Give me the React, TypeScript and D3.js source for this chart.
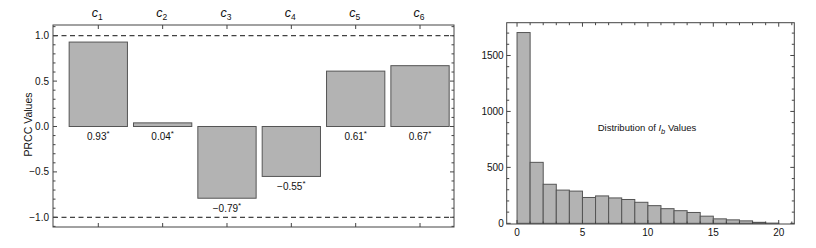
import React, { useEffect, useRef } from "react";
import * as d3 from "d3";

// PRCC panel data
const params = ["1", "2", "3", "4", "5", "6"];
const prccValues = [0.93, 0.04, -0.79, -0.55, 0.61, 0.67];
const prccLabels = ["0.93", "0.04", "\u22120.79", "\u22120.55", "0.61", "0.67"];
const prccTicks = [-1.0, -0.5, 0.0, 0.5, 1.0];

// histogram of I_b
const binStarts = [0, 1, 2, 3, 4, 5, 6, 7, 8, 9, 10, 11, 12, 13, 14, 15, 16, 17, 18, 19];
const binCounts = [1705, 545, 349, 297, 288, 231, 245, 227, 213, 188, 158, 131, 113, 97, 64, 40, 31, 22, 9, 2];
const histXTicks = [0, 5, 10, 15, 20];
const histYTicks = [0, 500, 1000, 1500];

const FONT = "'Liberation Sans', Arial, Helvetica, sans-serif";
const BAR_FILL = "#b3b3b3";
const BAR_STROKE = "#555";
const FRAME = "#444";

const App = () => {
  const ref = useRef<SVGSVGElement>(null);

  useEffect(() => {
    const svg = d3.select(ref.current);
    svg.selectAll("*").remove();
    svg.attr("font-family", FONT);

    // ---------- left: PRCC bar chart ----------
    const L = { left: 53, right: 454, top: 25, bottom: 227 };
    const x = d3.scaleLinear().domain([0.296, 6.528]).range([L.left, L.right]);
    const y = d3.scaleLinear().domain([-1.107, 1.118]).range([L.bottom, L.top]);
    const barW = 0.906;
    const idx = params.map((_, i) => i + 1);

    const left = svg.append("g");

    left
      .append("g")
      .selectAll("rect")
      .data(prccValues)
      .join("rect")
      .attr("x", (_, i) => x(i + 1 - barW / 2))
      .attr("width", x(barW) - x(0))
      .attr("y", (d) => y(Math.max(0, d)))
      .attr("height", (d) => Math.abs(y(d) - y(0)))
      .attr("fill", BAR_FILL)
      .attr("stroke", BAR_STROKE)
      .attr("stroke-width", 1);

    // dashed reference lines at +-1
    left
      .selectAll("line.ref")
      .data([1, -1])
      .join("line")
      .attr("x1", L.left)
      .attr("x2", L.right)
      .attr("y1", (d) => y(d))
      .attr("y2", (d) => y(d))
      .attr("stroke", "#111")
      .attr("stroke-width", 1)
      .attr("stroke-dasharray", "5,3.5");

    // value labels
    const vl = left
      .append("g")
      .selectAll("text")
      .data(prccValues)
      .join("text")
      .attr("x", (_, i) => x(i + 1))
      .attr("y", (d) => (d >= 0 ? y(0) : y(d)) + 14)
      .attr("text-anchor", "middle")
      .attr("font-size", 10)
      .attr("fill", "#111");
    vl.append("tspan").text((_, i) => prccLabels[i]);
    vl.append("tspan").attr("dy", -4).attr("font-size", 8).text("*");

    // frame
    left
      .append("rect")
      .attr("x", L.left)
      .attr("y", L.top)
      .attr("width", L.right - L.left)
      .attr("height", L.bottom - L.top)
      .attr("fill", "none")
      .attr("stroke", FRAME)
      .attr("stroke-width", 1);

    // y ticks (major 0.5, minor 0.1) on both sides
    const minorY = d3.range(-11, 12).map((v) => v / 10);
    minorY.forEach((v) => {
      const major = Math.abs(Math.round(v * 10) % 5) === 0;
      const len = major ? 4 : 2.5;
      left.append("line").attr("x1", L.left).attr("x2", L.left + len)
        .attr("y1", y(v)).attr("y2", y(v)).attr("stroke", FRAME);
      left.append("line").attr("x1", L.right).attr("x2", L.right - len)
        .attr("y1", y(v)).attr("y2", y(v)).attr("stroke", FRAME);
    });
    left
      .append("g")
      .selectAll("text")
      .data(prccTicks)
      .join("text")
      .attr("x", L.left - 4)
      .attr("y", (d) => y(d) + 3.5)
      .attr("text-anchor", "end")
      .attr("font-size", 10)
      .attr("fill", "#111")
      .text((d) => d3.format(".1f")(d).replace("-", "\u2212"));

    // x ticks at bar centres, top and bottom
    idx.forEach((i) => {
      left.append("line").attr("x1", x(i)).attr("x2", x(i))
        .attr("y1", L.bottom).attr("y2", L.bottom - 4).attr("stroke", FRAME);
      left.append("line").attr("x1", x(i)).attr("x2", x(i))
        .attr("y1", L.top).attr("y2", L.top + 4).attr("stroke", FRAME);
    });

    // c_i labels above the frame
    const cl = left
      .append("g")
      .selectAll("text")
      .data(params)
      .join("text")
      .attr("x", (_, i) => x(i + 1) - 1)
      .attr("y", 17)
      .attr("text-anchor", "middle")
      .attr("fill", "#111");
    cl.append("tspan").attr("font-size", 12.5).attr("font-style", "italic").text("c");
    cl.append("tspan").attr("font-size", 8.5).attr("dy", 3).text((d) => d);

    // y axis title
    left
      .append("text")
      .attr("transform", `translate(31.5,${y(0) - 2}) rotate(-90)`)
      .attr("text-anchor", "middle")
      .attr("font-size", 10.5)
      .attr("fill", "#111")
      .text("PRCC Values");

    // ---------- right: histogram ----------
    const R = { left: 506.7, right: 794.3, top: 22.7, bottom: 224 };
    const hx = d3.scaleLinear().domain([-0.79, 21.19]).range([R.left, R.right]);
    const hy = d3.scaleLinear().domain([-6, 1793]).range([R.bottom, R.top]);

    const right = svg.append("g");

    right
      .append("g")
      .selectAll("rect")
      .data(binCounts)
      .join("rect")
      .attr("x", (_, i) => hx(binStarts[i]))
      .attr("width", hx(1) - hx(0))
      .attr("y", (d) => hy(d))
      .attr("height", (d) => hy(0) - hy(d))
      .attr("fill", BAR_FILL)
      .attr("stroke", BAR_STROKE)
      .attr("stroke-width", 1);

    right
      .append("rect")
      .attr("x", R.left)
      .attr("y", R.top)
      .attr("width", R.right - R.left)
      .attr("height", R.bottom - R.top)
      .attr("fill", "none")
      .attr("stroke", FRAME)
      .attr("stroke-width", 1);

    // x ticks: major every 5, minor every 1
    d3.range(0, 22).forEach((v) => {
      const len = v % 5 === 0 ? 4 : 2.5;
      right.append("line").attr("x1", hx(v)).attr("x2", hx(v))
        .attr("y1", R.bottom).attr("y2", R.bottom - len).attr("stroke", FRAME);
      right.append("line").attr("x1", hx(v)).attr("x2", hx(v))
        .attr("y1", R.top).attr("y2", R.top + len).attr("stroke", FRAME);
    });
    // y ticks: major every 500, minor every 100
    d3.range(0, 1800, 100).forEach((v) => {
      const len = v % 500 === 0 ? 4 : 2.5;
      right.append("line").attr("x1", R.left).attr("x2", R.left + len)
        .attr("y1", hy(v)).attr("y2", hy(v)).attr("stroke", FRAME);
      right.append("line").attr("x1", R.right).attr("x2", R.right - len)
        .attr("y1", hy(v)).attr("y2", hy(v)).attr("stroke", FRAME);
    });

    right
      .append("g")
      .selectAll("text")
      .data(histXTicks)
      .join("text")
      .attr("x", (d) => hx(d))
      .attr("y", R.bottom + 11.5)
      .attr("text-anchor", "middle")
      .attr("font-size", 10)
      .attr("fill", "#111")
      .text((d) => d);

    right
      .append("g")
      .selectAll("text")
      .data(histYTicks)
      .join("text")
      .attr("x", R.left - 3)
      .attr("y", (d) => hy(d) + 3.5)
      .attr("text-anchor", "end")
      .attr("font-size", 10)
      .attr("fill", "#111")
      .text((d) => d);

    const title = right
      .append("text")
      .attr("x", 647)
      .attr("y", 131)
      .attr("text-anchor", "middle")
      .attr("font-size", 9.5)
      .attr("fill", "#111");
    title.append("tspan").text("Distribution of ");
    title.append("tspan").attr("font-style", "italic").text("I");
    title.append("tspan").attr("font-style", "italic").attr("font-size", 7.5).attr("dy", 2.5).text("b");
    title.append("tspan").attr("dy", -2.5).text(" Values");
  }, []);

  return (
    <div style={{ position: "fixed", left: 0, top: 0, width: 816, height: 248, background: "#fff" }}>
      <svg ref={ref} width={816} height={248} />
    </div>
  );
};

export default App;
